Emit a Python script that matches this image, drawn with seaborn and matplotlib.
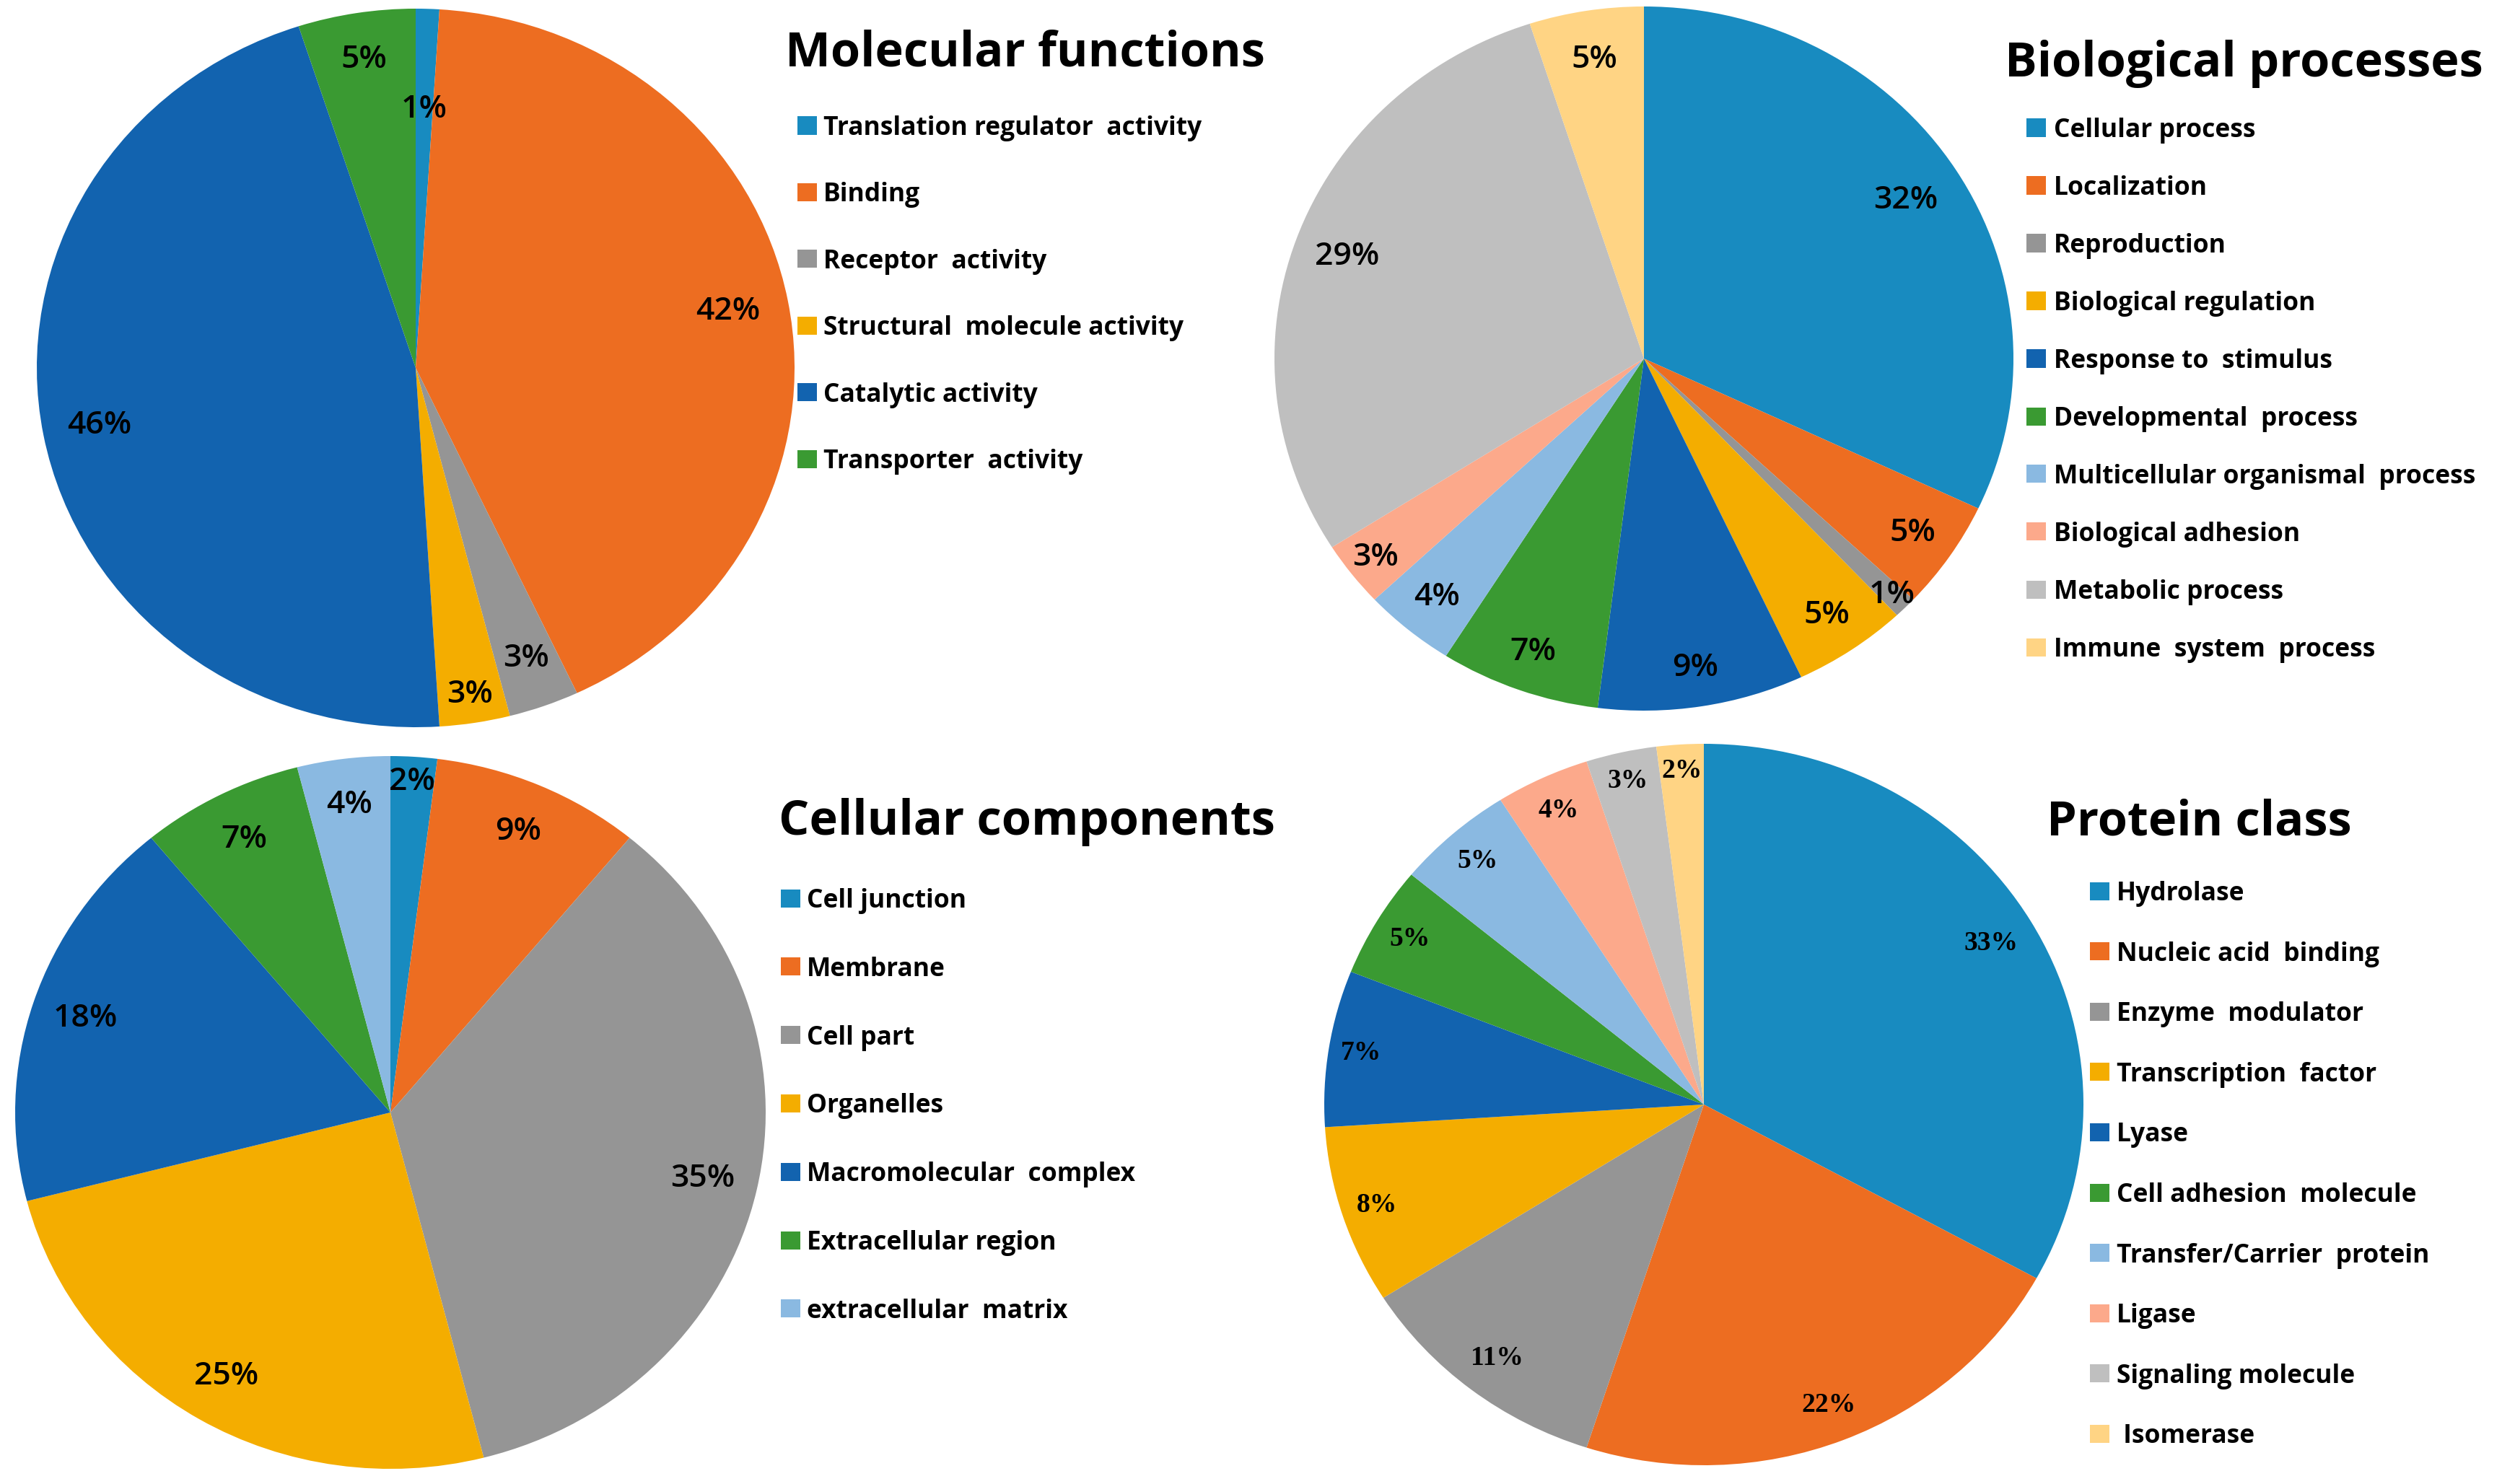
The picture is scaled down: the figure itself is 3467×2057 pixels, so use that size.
import numpy as np
import matplotlib
matplotlib.use("Agg")
import matplotlib.pyplot as plt
from matplotlib.patches import Rectangle
import seaborn as sns

W, H = 3467, 2057

# ---------------- data ----------------
mf_title = "Molecular functions"
mf_categories = ["Translation regulator  activity", "Binding", "Receptor  activity",
                 "Structural  molecule activity", "Catalytic activity", "Transporter  activity"]
mf_values = [1, 42, 3, 3, 46, 5]

bp_title = "Biological processes"
bp_categories = ["Cellular process", "Localization", "Reproduction", "Biological regulation",
                 "Response to  stimulus", "Developmental  process",
                 "Multicellular organismal  process", "Biological adhesion",
                 "Metabolic process", "Immune  system  process"]
bp_values = [32, 5, 1, 5, 9, 7, 4, 3, 29, 5]

cc_title = "Cellular components"
cc_categories = ["Cell junction", "Membrane", "Cell part", "Organelles",
                 "Macromolecular  complex", "Extracellular region", "extracellular  matrix"]
cc_values = [2, 9, 35, 25, 18, 7, 4]

pc_title = "Protein class"
pc_categories = ["Hydrolase", "Nucleic acid  binding", "Enzyme  modulator", "Transcription  factor",
                 "Lyase", "Cell adhesion  molecule", "Transfer/Carrier  protein", "Ligase",
                 "Signaling molecule", " Isomerase"]
pc_values = [33, 22, 11, 8, 7, 5, 5, 4, 3, 2]

palette_hex = ["#188BC0", "#ED6D21", "#959595", "#F4AD00", "#1263AF",
               "#3A9A32", "#8AB9E1", "#FCA98B", "#BFBFBF", "#FFD484"]

# label placement (fraction of radius), style only
mf_label_r = [0.72, 0.84, 0.86, 0.92, 0.85, 0.87]
bp_label_r = [0.84, 0.88, 0.95, 0.88, 0.89, 0.886, 0.88, 0.92, 0.853, 0.86]
cc_label_r = [0.93, 0.86, 0.852, 0.86, 0.855, 0.86, 0.87]
pc_label_r = [0.88, 0.895, 0.889, 0.906, 0.914, 0.90, 0.90, 0.90, 0.92, 0.926]

# ---------------- style ----------------
sns.set_theme(style="white")
plt.rcParams["font.family"] = ["Open Sans", "DejaVu Sans"]
office = sns.color_palette(palette_hex)

fig = plt.figure(figsize=(W / 100, H / 100), dpi=100)
fig.patch.set_facecolor("white")

sans_pct = dict(fontsize=32, color="black", fontweight=600,
                family=["Open Sans", "DejaVu Sans"])
serif_pct = dict(fontsize=27, color="black", fontweight="bold",
                 family=["Liberation Serif", "DejaVu Serif"])


def draw_panel(title, cats, vals, geom, label_r, pct_font, title_pos, legend_spec):
    cx, cy, rx, ry = geom
    ax = fig.add_axes([(cx - rx) / W, 1 - (cy + ry) / H, 2 * rx / W, 2 * ry / H])
    colors = office[:len(vals)]
    wedges, _, autotexts = ax.pie(
        vals, colors=colors, startangle=90, counterclock=False,
        autopct=lambda p: f"{p:.0f}%", pctdistance=0.86,
        textprops=pct_font, wedgeprops=dict(linewidth=0))
    ax.set_xlim(-1, 1)
    ax.set_ylim(-1, 1)
    ax.set_aspect("auto")
    ax.axis("off")
    for w, t, r in zip(wedges, autotexts, label_r):
        w.set_clip_on(False)
        mid = np.deg2rad((w.theta1 + w.theta2) / 2)
        t.set_position((r * np.cos(mid), r * np.sin(mid)))

    tx, tb = title_pos
    fig.text(tx / W, 1 - tb / H, title, fontsize=48, fontweight="bold",
             va="baseline", ha="left", color="black")

    mx, lx, y0, dy = legend_spec
    for i, lab in enumerate(cats):
        yc = y0 + i * dy
        fig.patches.append(Rectangle((mx / W, 1 - (yc + 12.5) / H), 27 / W, 25 / H,
                                     transform=fig.transFigure,
                                     facecolor=colors[i], edgecolor="none"))
        fig.text(lx / W, 1 - (yc + 13) / H, lab, fontsize=25.5, fontweight="bold",
                 va="baseline", ha="left", color="black")


draw_panel(mf_title, mf_categories, mf_values, (576, 510, 525, 498), mf_label_r, sans_pct,
           (1088, 92), (1105, 1141, 174, 92.4))
draw_panel(bp_title, bp_categories, bp_values, (2278, 497, 512, 488), bp_label_r, sans_pct,
           (2778, 106), (2808, 2846, 177, 80.0))
draw_panel(cc_title, cc_categories, cc_values, (541, 1542, 520, 494), cc_label_r, sans_pct,
           (1079, 1157), (1082, 1118, 1245, 94.8))
draw_panel(pc_title, pc_categories, pc_values, (2361, 1531, 526, 500), pc_label_r, serif_pct,
           (2836, 1157), (2896, 2933, 1235, 83.6))

fig.savefig("out.png", dpi=100, facecolor="white")
